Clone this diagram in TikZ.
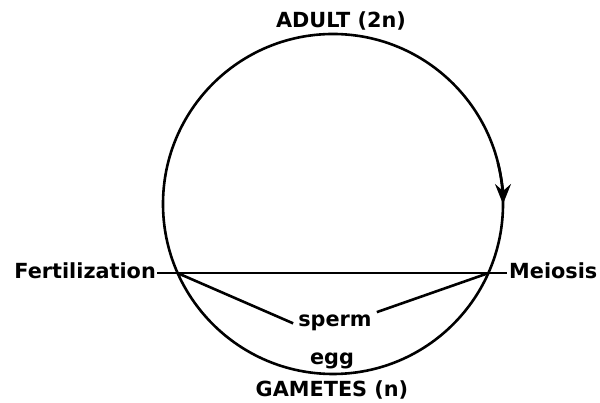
\documentclass[tikz,border=0pt]{standalone}
\usepackage{fontspec}
\setmainfont{DejaVu Sans}
\usetikzlibrary{arrows.meta,calc}
\begin{document}
\begin{tikzpicture}[x=1pt,y=1pt,
  lbl/.style={font=\bfseries\fontsize{20.8}{22}\selectfont, inner sep=0pt, anchor=base},
  ln/.style={line width=2.6pt, black}]
\useasboundingbox (0,0) rectangle (600,403);
\coordinate (C) at (333,199);
\draw[ln] (C) circle (170);
\draw[ln, -{Stealth[length=20pt,width=16pt,inset=7pt]}] ($(C)+(14:170)$) arc (14:0:170);
\coordinate (L) at ($(C)+(204:170)$);
\coordinate (R) at ($(C)+(336:170)$);
\node[lbl] (adult) at (341,375) {ADULT (2n)};
\node[lbl] (gam) at (332,6) {GAMETES (n)};
\node[lbl] (egg) at (332,38) {egg};
\node[lbl, inner sep=5pt] (sperm) at (335,76) {sperm};
\node[lbl, anchor=base east, inner sep=1pt] (fert) at (157,124) {Fertilization};
\node[lbl, anchor=base west, inner sep=2pt] (mei) at (507,124) {Meiosis};
\draw[ln] (fert.east |- 0,130) -- (mei.west |- 0,130);
\draw[ln] (L) -- (sperm.west);
\draw[ln] (R) -- (sperm.15);
\end{tikzpicture}
\end{document}
